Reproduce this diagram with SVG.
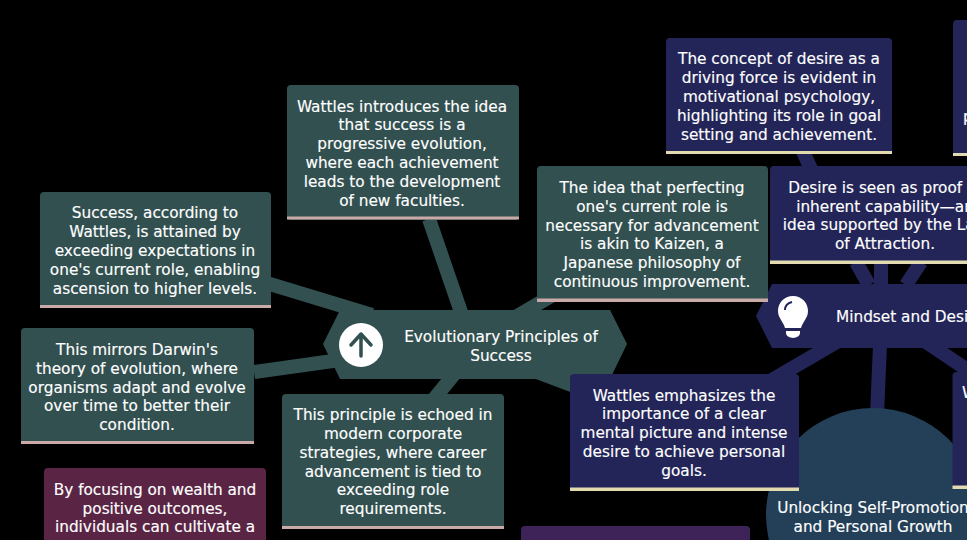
<svg xmlns="http://www.w3.org/2000/svg" width="967" height="540" viewBox="0 0 967 540">
<style>
text{font-family:"DejaVu Sans","DejaVu Sans Condensed",sans-serif;font-size:15.3px;fill:#fff;stroke:#fff;stroke-width:.15px;text-anchor:middle}
.g{fill:#325050}.n{fill:#232558}.m{fill:#5a2444}.p{fill:#3d2358}
.gb{fill:#c9aaa8}.nb{fill:#e2dbb0}
.cg{stroke:#325050;stroke-width:14;fill:none}
.cn{stroke:#232558;stroke-width:14;fill:none}
</style>
<rect width="967" height="540" fill="#000"/>
<g id="connectors">
<path class="cg" d="M429 219L461 312M260 281L372 315M254 372L340 360M460 367L425 410M505 323L565 288M500 358L590 392"/>
<path class="cn" d="M800 145L816 180M856 262L869 285M881 262V290M921 262L906 285M842 339L770 381M880 345L877 415M920 338L975 375"/>
</g>
<g id="hub-evolution">
<path class="g" d="M340 310H610L627 344L610 379H340L323 344Z"/>
<circle cx="361" cy="345" r="22" fill="#fff"/>
<path d="M361 356V334M351 345L361 334L371 345" fill="none" stroke="#325050" stroke-width="3.5" stroke-linecap="round" stroke-linejoin="round"/>
<text x="501" y="342">Evolutionary Principles of</text>
<text x="501" y="361">Success</text>
</g>
<g id="hub-mindset">
<path class="n" d="M772 284H967V348H772L756 316Z"/>
<path d="M793 296c-9 0-15 7-15 15c0 7 5 10 7 17h16c2-7 7-10 7-17c0-8-6-15-15-15z" fill="#fff"/>
<path d="M786 331h14v2a7 5 0 0 1-14 0z" fill="#fff"/>
<path d="M785 310c0-4 3-7 7-8" fill="none" stroke="#232558" stroke-width="2"/>
<text x="836" y="322" style="text-anchor:start">Mindset and Desire</text>
</g>
<g id="root">
<circle cx="873" cy="515" r="107" fill="#234058"/>
<text x="873" y="513">Unlocking Self-Promotion</text>
<text x="873" y="532">and Personal Growth</text>
</g>
<g id="n1">
<rect class="g" x="287" y="85" width="232" height="135" rx="4"/><rect class="gb" x="287" y="216.5" width="232" height="3"/>
<text x="402" y="112">Wattles introduces the idea</text><text x="402" y="130">that success is a</text><text x="402" y="149">progressive evolution,</text><text x="402" y="168">where each achievement</text><text x="402" y="187">leads to the development</text><text x="402" y="206">of new faculties.</text>
</g>
<g id="n2">
<rect class="g" x="40" y="192" width="231" height="116" rx="4"/><rect class="gb" x="40" y="305" width="231" height="3"/>
<text x="155" y="218">Success, according to</text><text x="155" y="237">Wattles, is attained by</text><text x="155" y="256">exceeding expectations in</text><text x="155" y="275">one's current role, enabling</text><text x="155" y="294">ascension to higher levels.</text>
</g>
<g id="n3">
<rect class="g" x="21" y="328" width="233" height="116" rx="4"/><rect class="gb" x="21" y="441" width="233" height="3"/>
<text x="137" y="355">This mirrors Darwin's</text><text x="137" y="374">theory of evolution, where</text><text x="137" y="393">organisms adapt and evolve</text><text x="137" y="411">over time to better their</text><text x="137" y="430">condition.</text>
</g>
<g id="n4">
<rect class="g" x="282" y="394" width="222" height="135" rx="4"/><rect class="gb" x="282" y="526" width="222" height="3"/>
<text x="393" y="420">This principle is echoed in</text><text x="393" y="439">modern corporate</text><text x="393" y="458">strategies, where career</text><text x="393" y="477">advancement is tied to</text><text x="393" y="495">exceeding role</text><text x="393" y="514">requirements.</text>
</g>
<g id="n5">
<rect class="g" x="537" y="166" width="231" height="136" rx="4"/><rect class="gb" x="537" y="298.5" width="231" height="3.5"/>
<text x="652" y="193">The idea that perfecting</text><text x="652" y="212">one's current role is</text><text x="652" y="231">necessary for advancement</text><text x="652" y="249">is akin to Kaizen, a</text><text x="652" y="268">Japanese philosophy of</text><text x="652" y="287">continuous improvement.</text>
</g>
<g id="n6">
<rect class="n" x="570" y="374" width="229" height="117" rx="4"/><rect class="nb" x="570" y="487.5" width="229" height="3.5"/>
<text x="684" y="401">Wattles emphasizes the</text><text x="684" y="419">importance of a clear</text><text x="684" y="438">mental picture and intense</text><text x="684" y="457">desire to achieve personal</text><text x="684" y="476">goals.</text>
</g>
<g id="n7">
<rect class="n" x="666" y="38" width="226" height="116" rx="4"/><rect class="nb" x="666" y="151" width="226" height="3"/>
<text x="779" y="64">The concept of desire as a</text><text x="779" y="83">driving force is evident in</text><text x="779" y="102">motivational psychology,</text><text x="779" y="121">highlighting its role in goal</text><text x="779" y="140">setting and achievement.</text>
</g>
<g id="n8">
<rect class="n" x="770" y="166" width="230" height="98" rx="4"/><rect class="nb" x="770" y="260.5" width="230" height="3.5"/>
<text x="885" y="193">Desire is seen as proof of</text><text x="885" y="212">inherent capability—an</text><text x="885" y="230">idea supported by the Law</text><text x="885" y="249">of Attraction.</text>
</g>
<g id="n9">
<rect class="n" x="953" y="20" width="60" height="136" rx="4"/><rect class="nb" x="953" y="153" width="60" height="3"/>
<text x="963" y="122" style="text-anchor:start">p</text>
</g>
<g id="n10">
<rect class="n" x="952.5" y="372" width="60" height="117" rx="4"/><rect class="nb" x="952.5" y="485.5" width="60" height="3.5"/>
<text x="962" y="398" style="text-anchor:start">W</text>
</g>
<g id="n11">
<rect class="m" x="44" y="468" width="222" height="90" rx="4"/>
<text x="155" y="495">By focusing on wealth and</text><text x="155" y="514">positive outcomes,</text><text x="155" y="532">individuals can cultivate a</text>
</g>
<g id="n12">
<rect class="p" x="521" y="526" width="229" height="40" rx="4"/>
</g>
</svg>
